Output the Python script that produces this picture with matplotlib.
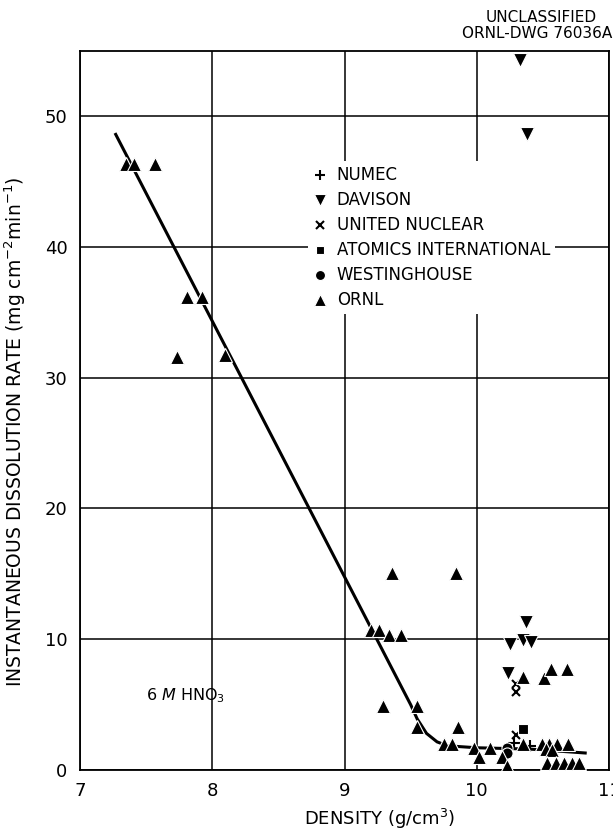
import matplotlib
matplotlib.use("Agg")
import matplotlib.pyplot as plt

plt.rcParams['font.family'] = ['DejaVu Sans']

# ---- data ----
numec_x = [10.40, 10.28]
numec_y = [1.86, 2.1]

davison_x = [10.33, 10.38, 10.37, 10.25, 10.35, 10.41, 10.24]
davison_y = [54.3, 48.6, 11.35, 9.6, 9.95, 9.75, 7.4]

united_x = [10.30, 10.30, 10.30]
united_y = [6.6, 6.0, 2.7]

atomics_x = [10.35]
atomics_y = [3.1]

westing_x = [10.23, 10.23]
westing_y = [1.66, 1.28]

ornl_x = [7.35, 7.41, 7.57, 7.81, 7.92, 7.73, 8.10,
          9.36, 9.84, 9.20, 9.26, 9.34, 9.43, 9.29, 9.55, 9.55, 9.86,
          9.75, 9.81, 9.98, 10.02, 10.10, 10.19, 10.23,
          10.35, 10.35, 10.51, 10.56, 10.68,
          10.49, 10.55, 10.61, 10.69, 10.52, 10.57,
          10.53, 10.60, 10.66, 10.72, 10.77]
ornl_y = [46.3, 46.3, 46.3, 36.2, 36.2, 31.6, 31.7,
          15.1, 15.1, 10.7, 10.7, 10.3, 10.3, 4.9, 4.9, 3.3, 3.3,
          2.0, 2.0, 1.66, 1.0, 1.66, 1.0, 0.3,
          7.1, 2.0, 7.0, 7.7, 7.7,
          2.0, 2.0, 2.0, 2.0, 1.6, 1.5,
          0.5, 0.5, 0.5, 0.5, 0.5]

curve_x = [7.27, 9.50, 9.55, 9.62, 9.70, 9.78, 10.0, 10.4, 10.82]
curve_y = [48.6, 5.0, 3.9, 2.8, 2.15, 1.85, 1.7, 1.6, 1.3]

xticks = [7, 8, 9, 10, 11]
yticks = [0, 10, 20, 30, 40, 50]

# ---- figure ----
fig = plt.figure(figsize=(6.13, 8.32), dpi=100)
ax = fig.add_axes([80/613, 1-770/832, (609-80)/613, (770-50.7)/832])
ax.set_xlim(7, 11)
ax.set_ylim(0, 55)
ax.set_xticks(xticks)
ax.set_yticks(yticks)
ax.set_xticklabels([str(t) for t in xticks], fontsize=13)
ax.set_yticklabels([str(t) for t in yticks], fontsize=13)
ax.tick_params(length=0, pad=9)
for s in ax.spines.values():
    s.set_linewidth(1.3)
ax.grid(True, color='black', linewidth=1.1)
ax.set_axisbelow(True)

ax.plot(curve_x, curve_y, color='black', linewidth=2.2, zorder=2)

mk = dict(linestyle='none', color='black', markeredgecolor='white',
          markeredgewidth=0.8, zorder=3)
h1, = ax.plot(numec_x, numec_y, marker='+', markersize=8, linestyle='none',
              color='black', markeredgewidth=1.5, zorder=3, label='NUMEC')
h2, = ax.plot(davison_x, davison_y, marker='v', markersize=9.5, label='DAVISON', **mk)
h3, = ax.plot(united_x, united_y, marker='x', markersize=6, linestyle='none',
              color='black', markeredgewidth=1.5, zorder=3, label='UNITED NUCLEAR')
h4, = ax.plot(atomics_x, atomics_y, marker='s', markersize=7, label='ATOMICS INTERNATIONAL', **mk)
h5, = ax.plot(westing_x, westing_y, marker='o', markersize=8, label='WESTINGHOUSE', **mk)
h6, = ax.plot(ornl_x, ornl_y, marker='^', markersize=9.5, label='ORNL', **mk)

leg = ax.legend(handles=[h1, h2, h3, h4, h5, h6], loc='upper left',
                bbox_to_anchor=((300-80)/529, (770-153)/(770-50.7)),
                frameon=True, fontsize=12, handlelength=0.8, handletextpad=0.6,
                labelspacing=0.42, borderpad=0.3, markerscale=0.9)
leg.get_frame().set_facecolor('white')
leg.get_frame().set_edgecolor('none')
leg.get_frame().set_alpha(1)

ax.text(7.50, 5.7, r'6 $\mathit{M}$ HNO$_3$', fontsize=11.5, va='center', ha='left')

ax.set_xlabel(r'DENSITY (g/cm$^3$)', fontsize=13)
ax.xaxis.set_label_coords(0.567, -0.051)
ax.set_ylabel(r'INSTANTANEOUS DISSOLUTION RATE (mg cm$^{-2}$min$^{-1}$)',
              fontsize=13.5)
ax.yaxis.set_label_coords(-0.099, 0.47)

fig.text(597/613, 1-18/832, 'UNCLASSIFIED', fontsize=11, ha='right', va='center')
fig.text(612/613, 1-34/832, 'ORNL-DWG 76036A', fontsize=11, ha='right', va='center')

fig.savefig('out.png', dpi=100)
